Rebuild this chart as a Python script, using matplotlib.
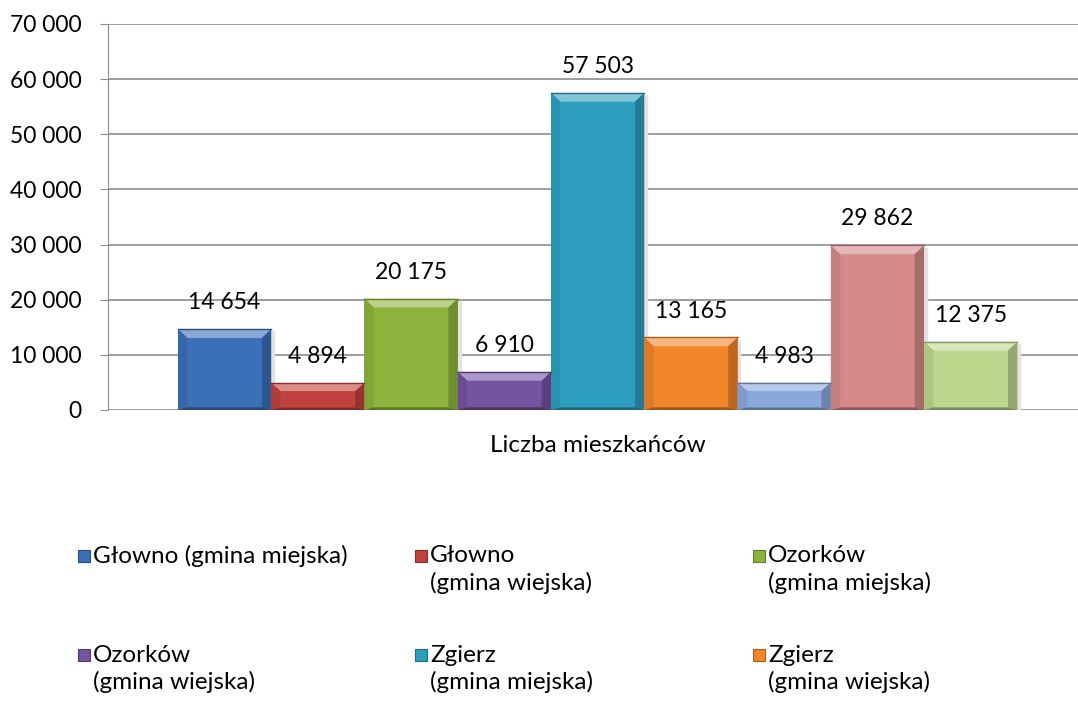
import matplotlib
matplotlib.use("Agg")
import matplotlib.pyplot as plt
from matplotlib.patches import Polygon, Rectangle
from matplotlib.colors import to_rgb
import numpy as np

plt.rcParams['font.family'] = ['Lato', 'DejaVu Sans']

# dane
values = [14654, 4894, 20175, 6910, 57503, 13165, 4983, 29862, 12375]
colors = ['#3a70b8', '#c0413e', '#8db33d', '#7453a0', '#2e9ebe',
          '#f0852a', '#89a9dd', '#d68a88', '#bcd68e']
category = 'Liczba mieszkańców'
legend_labels = ['Głowno (gmina miejska)', 'Głowno\n(gmina wiejska)',
                 'Ozorków\n(gmina miejska)', 'Ozorków\n(gmina wiejska)',
                 'Zgierz\n(gmina miejska)', 'Zgierz\n(gmina wiejska)']
yticks = [0, 10000, 20000, 30000, 40000, 50000, 60000, 70000]


def fmt(v):
    return '{:,}'.format(v).replace(',', ' ')


def mix(c, other, t):
    c = np.array(to_rgb(c))
    o = np.array(to_rgb(other))
    return tuple(c * (1 - t) + o * t)


W, H = 1078, 716
fig = plt.figure(figsize=(W / 100, H / 100), dpi=100)
ax = fig.add_axes([108 / W, 1 - 410 / H, (W - 108) / W, (410 - 24) / H])

x = np.arange(len(values))
bars = ax.bar(x, values, width=1.0, color=colors, edgecolor='none', zorder=3)

ax.set_xlim(-1.25, 9.15)
ax.set_ylim(0, 70000)
ax.set_yticks(yticks)
ax.set_yticklabels([fmt(t) for t in yticks], fontsize=16.5)
ax.tick_params(axis='y', length=6, color='#8c8c8c', pad=13)
ax.set_xticks([])
for s in ['top', 'right', 'bottom']:
    ax.spines[s].set_visible(False)
ax.spines['left'].set_color('#8c8c8c')
ax.spines['left'].set_zorder(4)
ax.grid(axis='y', color='#8c8c8c', lw=1.2, zorder=1)
ax.set_axisbelow(True)

# efekt fazowania
bx = 0.1
by = 1600
for b, c in zip(bars, colors):
    x0, w, h = b.get_x(), b.get_width(), b.get_height()
    x1 = x0 + w
    dy = min(by, h * 0.3)
    # cien
    ax.add_patch(Rectangle((x1, 0), 0.03, h - 400, color='#e2e2e2', zorder=2))
    ax.add_patch(Polygon([(x0, h), (x1, h), (x1 - bx, h - dy), (x0 + bx, h - dy)],
                         color=mix(c, 'white', 0.4), zorder=4, lw=0))
    ax.add_patch(Polygon([(x0, h), (x0 + bx, h - dy), (x0 + bx, dy * 0.3), (x0, 0)],
                         color=mix(c, 'black', 0.08), zorder=4, lw=0))
    ax.add_patch(Polygon([(x1, h), (x1 - bx, h - dy), (x1 - bx, dy * 0.3), (x1, 0)],
                         color=mix(c, 'black', 0.22), zorder=4, lw=0))
    ax.add_patch(Polygon([(x0, 0), (x0 + bx, dy * 0.3), (x1 - bx, dy * 0.3), (x1, 0)],
                         color=mix(c, 'black', 0.35), zorder=4, lw=0))
    ax.plot([x0, x1], [h, h], color=mix(c, 'black', 0.3), lw=1, zorder=5)
    ax.annotate(fmt(int(h)), (b.get_x() + w / 2, h), xytext=(0, 19),
                textcoords='offset points', ha='center', va='center',
                fontsize=16.5, zorder=6)

fig.text(598 / W, 1 - 446 / H, category, ha='center', va='center', fontsize=17.5)

# legenda
col_x = [78, 415, 753]
row_y = [556, 655]
for i, lab in enumerate(legend_labels):
    cx = col_x[i % 3]
    ry = row_y[i // 3]
    fig.patches.append(Rectangle((cx / W, 1 - (ry + 6) / H), 12 / W, 12 / H,
                                 transform=fig.transFigure,
                                 facecolor=colors[i],
                                 edgecolor=mix(colors[i], 'black', 0.3), lw=0.8))
    for j, line in enumerate(lab.split('\n')):
        fig.text((cx + 15) / W, 1 - (ry + 27 * j) / H, line,
                 ha='left', va='center', fontsize=17.5)

fig.savefig('out.png', dpi=100)
